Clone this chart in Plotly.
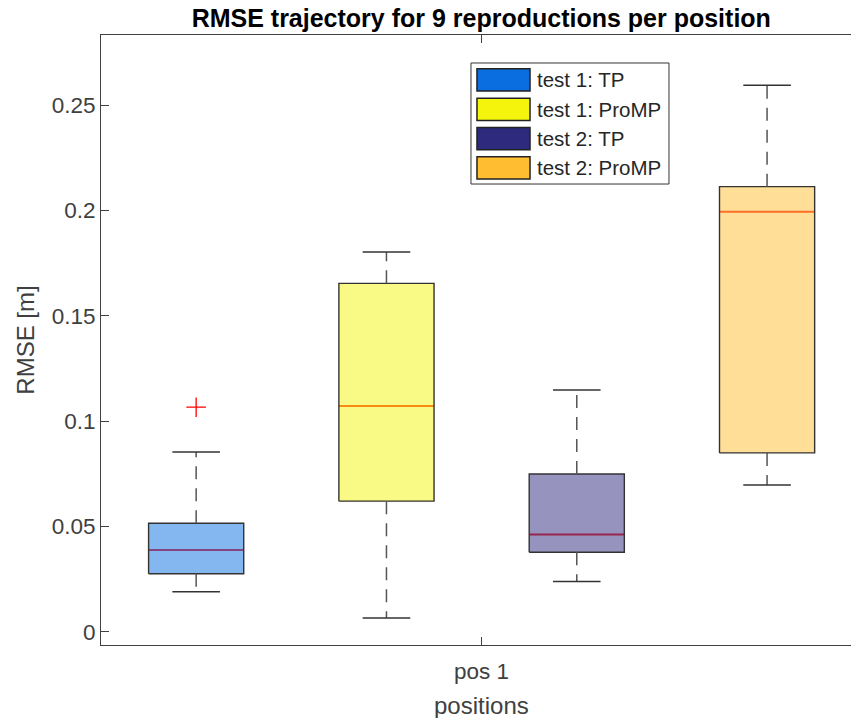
import plotly.graph_objects as go

# Box statistics per group (RMSE in metres)
groups = ["test 1: TP", "test 1: ProMP", "test 2: TP", "test 2: ProMP"]
positions = [1, 2, 3, 4]
lower_whisker = [0.0190, 0.0065, 0.0239, 0.0697]
q1 = [0.0275, 0.0620, 0.0377, 0.0849]
median = [0.0388, 0.1072, 0.0462, 0.1994]
q3 = [0.0515, 0.1654, 0.0749, 0.2113]
upper_whisker = [0.0853, 0.1803, 0.1148, 0.2594]
outlier_x = [1]
outlier_y = [0.1066]

colors = [(10, 110, 225), (244, 244, 12), (46, 42, 125), (255, 190, 50)]
y_ticks = [0, 0.05, 0.1, 0.15, 0.2, 0.25]
y_ticktext = ["0", "0.05", "0.1", "0.15", "0.2", "0.25"]
x_tickvals = [2.5]
x_ticktext = ["pos 1"]

BOX_W = 0.5
CAP_W = 0.25
FONT = "Liberation Sans, Arial, sans-serif"
AX = "#404040"

fig = go.Figure()

for i, p in enumerate(positions):
    r, g, b = colors[i]
    h = BOX_W / 2
    c = CAP_W / 2
    # median (red), sits under the translucent box patch
    fig.add_trace(go.Scatter(x=[p - h, p + h], y=[median[i], median[i]], mode="lines",
                             line=dict(color="rgb(255,30,30)", width=2),
                             hoverinfo="skip", showlegend=False))
    # box body
    fig.add_trace(go.Scatter(x=[p - h, p + h, p + h, p - h, p - h],
                             y=[q1[i], q1[i], q3[i], q3[i], q1[i]],
                             mode="lines", fill="toself",
                             fillcolor=f"rgba({r},{g},{b},0.5)",
                             line=dict(color="#333333", width=1.4),
                             hoverinfo="skip", showlegend=False))
    # dashed whiskers
    fig.add_trace(go.Scatter(x=[p, p, None, p, p],
                             y=[q3[i], upper_whisker[i], None, q1[i], lower_whisker[i]],
                             mode="lines", line=dict(color="#555555", width=1.5, dash="13px,9px"),
                             hoverinfo="skip", showlegend=False))
    # whisker caps
    fig.add_trace(go.Scatter(x=[p - c, p + c, None, p - c, p + c],
                             y=[upper_whisker[i], upper_whisker[i], None,
                                lower_whisker[i], lower_whisker[i]],
                             mode="lines", line=dict(color="#333333", width=1.5),
                             hoverinfo="skip", showlegend=False))

fig.add_trace(go.Scatter(x=outlier_x, y=outlier_y, mode="markers",
                         marker=dict(symbol="cross-thin", size=14,
                                     line=dict(color="red", width=1.3)),
                         hoverinfo="skip", showlegend=False))

# Legend panel drawn in paper coordinates
L = dict(x0=0.4933, x1=0.7573, y0=0.7557, y1=0.9541)
patch_x0, patch_x1 = 0.5013, 0.5720
row_top = 0.9445
row_step = 0.0480
patch_h = 0.0365
shapes = [dict(type="rect", xref="paper", yref="paper", **L,
               line=dict(color="#333333", width=1), fillcolor="white", layer="above")]
annotations = []
for i, name in enumerate(groups):
    r, g, b = colors[i]
    top = row_top - i * row_step
    shapes.append(dict(type="rect", xref="paper", yref="paper",
                       x0=patch_x0, x1=patch_x1, y0=top - patch_h, y1=top,
                       line=dict(color="#222222", width=1.5),
                       fillcolor=f"rgb({r},{g},{b})", layer="above"))
    annotations.append(dict(xref="paper", yref="paper", x=0.578, y=top - patch_h / 2,
                            xanchor="left", yanchor="middle", showarrow=False,
                            text=name, font=dict(family=FONT, size=20.5, color="#262626")))

# x-axis title, centred under the tick at the middle of the group span
annotations.append(dict(xref="x", yref="paper", x=x_tickvals[0], y=-0.099,
                        xanchor="center", yanchor="middle", showarrow=False,
                        text="positions", font=dict(family=FONT, size=24, color=AX)))

fig.update_layout(
    width=851, height=718,
    margin=dict(l=101, r=0, t=35, b=73),
    paper_bgcolor="white", plot_bgcolor="white",
    font=dict(family=FONT, color=AX),
    title=dict(text="<b>RMSE trajectory for 9 reproductions per position</b>",
               xref="paper", x=0.507, xanchor="center",
               yref="container", y=0.975, yanchor="middle",
               font=dict(family=FONT, size=25, color="black")),
    xaxis=dict(range=[0.5, 4.441], tickvals=x_tickvals, ticktext=x_ticktext,
               ticks="inside", ticklen=8, tickcolor=AX, showline=True, linecolor=AX,
               linewidth=1, mirror="ticks", showgrid=False, zeroline=False,
               ticklabelstandoff=6,
               tickfont=dict(size=22.5, color=AX)),
    yaxis=dict(range=[-0.0063, 0.2833], tickvals=y_ticks, ticktext=y_ticktext,
               ticks="inside", ticklen=8, tickcolor=AX, showline=True, linecolor=AX,
               linewidth=1, mirror=False, showgrid=False, zeroline=False,
               tickfont=dict(size=22.5, color=AX),
               title=dict(text="RMSE [m]", font=dict(size=24, color=AX), standoff=10)),
    shapes=shapes,
    annotations=annotations,
    showlegend=False,
)

fig.write_html("out.html")
